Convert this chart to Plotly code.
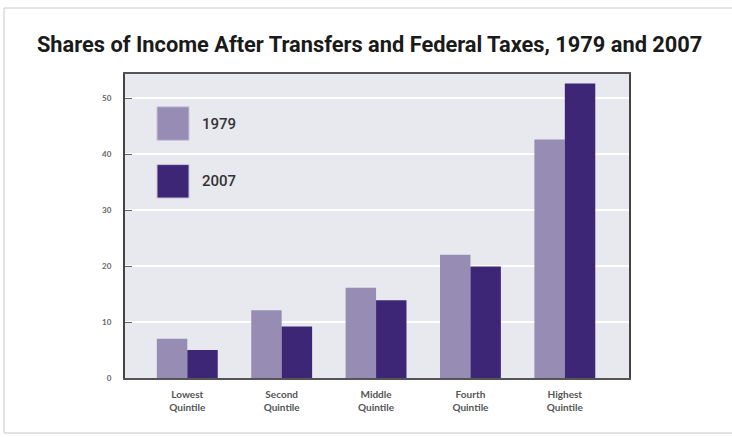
import plotly.graph_objects as go

categories = ["Lowest<br>Quintile", "Second<br>Quintile", "Middle<br>Quintile", "Fourth<br>Quintile", "Highest<br>Quintile"]
shares_1979 = [7.0, 12.1, 16.1, 22.0, 42.6]
shares_2007 = [5.0, 9.2, 13.9, 19.9, 52.6]
series_names = ["1979", "2007"]
y_ticks = [0, 10, 20, 30, 40, 50]

c1979 = "#978cb3"
c2007 = "#3e2676"

fig = go.Figure()
fig.add_trace(go.Bar(x=categories, y=shares_1979, name=series_names[0], marker=dict(color=c1979, line=dict(width=0))))
fig.add_trace(go.Bar(x=categories, y=shares_2007, name=series_names[1], marker=dict(color=c2007, line=dict(width=0))))

# legend drawn as swatches + labels (large squares like the reference)
for i, (name, col) in enumerate(zip(series_names, [c1979, c2007])):
    y0 = 0.782 - i * 0.19
    fig.add_shape(type="rect", xref="paper", yref="paper", x0=0.0635, x1=0.127, y0=y0, y1=y0 + 0.11,
                  fillcolor=col, line=dict(color="#c9c3d8", width=1))
    fig.add_annotation(xref="paper", yref="paper", x=0.148, y=y0 + 0.055, text=name, showarrow=False,
                       xanchor="left", yanchor="middle",
                       font=dict(family="Roboto, Arial", size=15, color="#333", weight=500))

# outer frame
fig.add_shape(type="rect", xref="paper", yref="paper", x0=-0.24, x1=1.25, y0=-0.181, y1=1.217,
              line=dict(color="#c8c8c8", width=1), fillcolor="rgba(0,0,0,0)", layer="below")

fig.update_layout(
    width=732, height=437,
    margin=dict(l=125, r=103, t=74, b=59),
    paper_bgcolor="white",
    plot_bgcolor="#e7e9ee",
    barmode="group",
    bargap=0.355,
    bargroupgap=0,
    showlegend=False,
    title=dict(text="<b>Shares of Income After Transfers and Federal Taxes, 1979 and 2007</b>",
               x=0.505, xanchor="center", y=1 - 44 / 437, yanchor="middle", yref="container",
               font=dict(family="Roboto, Arial", size=21.8, color="#1a1a1a")),
    xaxis=dict(
        type="category",
        range=[-0.66, 4.68],
        showgrid=False,
        showline=True, linecolor="#555", linewidth=1.5, mirror=True,
        ticks="",
        tickfont=dict(family="Lato, Open Sans, Arial", size=10, color="#555", weight="bold"),
        ticklabelstandoff=6,
    ),
    yaxis=dict(
        range=[0, 54.3],
        tickvals=y_ticks,
        showgrid=True, gridcolor="white", gridwidth=2,
        zeroline=False,
        showline=True, linecolor="#444", linewidth=2, mirror=True,
        ticks="inside", ticklen=7, tickcolor="#666", tickwidth=1,
        ticklabelstandoff=10,
        tickfont=dict(family="Lato, Open Sans, Arial", size=8, color="#666", weight="bold"),
    ),
)

fig.write_html("out.html")
